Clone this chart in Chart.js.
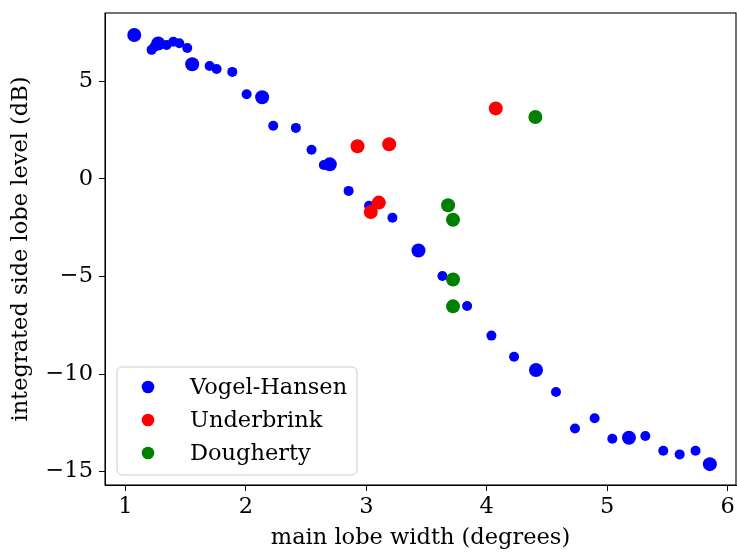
<!DOCTYPE html>
<html>
<head>
<meta charset="utf-8">
<script src="https://cdn.jsdelivr.net/npm/chart.js@4/dist/chart.umd.min.js"></script>
<style>
  html, body { margin: 0; padding: 0; background: #ffffff; }
  #wrap { width: 737px; height: 552px; }
</style>
</head>
<body>
<div id="wrap"><canvas id="c" width="737" height="552"></canvas></div>
<script>
// ---- data ----
const seriesNames = ['Vogel-Hansen', 'Underbrink', 'Dougherty'];

const vhX = [1.073, 1.217, 1.24, 1.272, 1.342, 1.397, 1.447, 1.513, 1.554, 1.699, 1.757, 1.887,
             2.006, 2.135, 2.227, 2.415, 2.545, 2.647, 2.697, 2.853, 3.023, 3.217, 3.433, 3.632,
             3.837, 4.039, 4.227, 4.409, 4.575, 4.733, 4.896, 5.043, 5.181, 5.317, 5.466, 5.602,
             5.734, 5.853];
const vhY = [7.38, 6.62, 6.78, 6.95, 6.87, 7.04, 6.96, 6.72, 5.88, 5.79, 5.64, 5.49,
             4.34, 4.19, 2.73, 2.62, 1.50, 0.72, 0.75, -0.61, -1.37, -1.99, -3.67, -4.97,
             -6.51, -8.03, -9.11, -9.79, -10.92, -12.79, -12.27, -13.32, -13.27, -13.18, -13.93, -14.12,
             -13.93, -14.62];
// 1 = drawn as a larger marker in the reference
const vhBig = [1, 0, 0, 1, 0, 0, 0, 0, 1, 0, 0, 0,
               0, 1, 0, 0, 0, 0, 1, 0, 0, 0, 1, 0,
               0, 0, 0, 1, 0, 0, 0, 0, 1, 0, 0, 0,
               0, 1];

const ubX = [2.927, 3.19, 3.104, 3.037, 4.075];
const ubY = [1.68, 1.78, -1.21, -1.69, 3.62];

const dgX = [3.679, 3.72, 3.72, 3.72, 4.404];
const dgY = [-1.35, -2.09, -5.15, -6.53, 3.18];

const xTicks = [1, 2, 3, 4, 5, 6];
const yTicks = [-15, -10, -5, 0, 5];

const xTitle = 'main lobe width (degrees)';
const yTitle = 'integrated side lobe level (dB)';

// ---- styling ----
const FONT = 'DejaVu Serif';
const FS = 22.5;
const colors = ['#0000ff', '#ff0000', '#008000'];
const R_SMALL = 5, R_BIG = 7;

const pts = (xs, ys) => xs.map((x, i) => ({ x: x, y: ys[i] }));

const framePlugin = {
  id: 'frame',
  afterDatasetsDraw(chart) {
    const { ctx, chartArea: a } = chart;
    ctx.save();
    ctx.strokeStyle = '#000';
    ctx.lineWidth = 1.1;
    ctx.strokeRect(a.left, a.top, a.right - a.left, a.bottom - a.top);
    ctx.restore();
  }
};

const legendPlugin = {
  id: 'boxLegend',
  afterDraw(chart) {
    const { ctx, chartArea: a } = chart;
    const x0 = a.left + 12, y0 = a.bottom - 118, w = 240, h = 108, r = 5;
    ctx.save();
    ctx.beginPath();
    ctx.moveTo(x0 + r, y0);
    ctx.lineTo(x0 + w - r, y0);
    ctx.arcTo(x0 + w, y0, x0 + w, y0 + r, r);
    ctx.lineTo(x0 + w, y0 + h - r);
    ctx.arcTo(x0 + w, y0 + h, x0 + w - r, y0 + h, r);
    ctx.lineTo(x0 + r, y0 + h);
    ctx.arcTo(x0, y0 + h, x0, y0 + h - r, r);
    ctx.lineTo(x0, y0 + r);
    ctx.arcTo(x0, y0, x0 + r, y0, r);
    ctx.closePath();
    ctx.fillStyle = 'rgba(255,255,255,0.8)';
    ctx.fill();
    ctx.strokeStyle = '#cccccc';
    ctx.lineWidth = 1;
    ctx.stroke();
    ctx.font = FS + 'px "' + FONT + '"';
    ctx.textBaseline = 'middle';
    ctx.textAlign = 'left';
    seriesNames.forEach((name, i) => {
      const cy = y0 + 20 + i * 33;
      ctx.beginPath();
      ctx.arc(x0 + 31, cy, 6.3, 0, Math.PI * 2);
      ctx.fillStyle = colors[i];
      ctx.fill();
      ctx.fillStyle = '#000';
      ctx.fillText(name, x0 + 73, cy + 1);
    });
    ctx.restore();
  }
};

new Chart(document.getElementById('c'), {
  type: 'scatter',
  data: {
    datasets: [
      { label: seriesNames[0], data: pts(vhX, vhY), backgroundColor: colors[0], borderWidth: 0,
        pointRadius: vhBig.map(b => b ? R_BIG : R_SMALL), order: 3 },
      { label: seriesNames[1], data: pts(ubX, ubY), backgroundColor: colors[1], borderWidth: 0,
        pointRadius: R_BIG, order: 2 },
      { label: seriesNames[2], data: pts(dgX, dgY), backgroundColor: colors[2], borderWidth: 0,
        pointRadius: R_BIG, order: 1 }
    ]
  },
  options: {
    responsive: false,
    animation: false,
    events: [],
    layout: { autoPadding: false, padding: { left: 0, top: 13, right: 1, bottom: 0 } },
    plugins: { legend: { display: false }, tooltip: { enabled: false } },
    scales: {
      x: {
        type: 'linear', min: 0.83, max: 6.07,
        afterBuildTicks: s => { s.ticks = xTicks.map(v => ({ value: v })); },
        afterFit: s => { s.height = 67; s.paddingLeft = 0; s.paddingRight = 0; },
        grid: { display: true, drawOnChartArea: false, drawTicks: true, tickLength: 6, color: '#000', lineWidth: 1 },
        border: { display: true, color: '#000', width: 1 },
        ticks: { color: '#000', padding: 3, font: { family: FONT, size: FS }, maxRotation: 0,
                 callback: v => String(v) },
        title: { display: true, text: xTitle, color: '#000', font: { family: FONT, size: FS },
                 padding: { top: 0, bottom: 0 } }
      },
      y: {
        type: 'linear', min: -15.69, max: 8.51,
        afterBuildTicks: s => { s.ticks = yTicks.map(v => ({ value: v })); },
        afterFit: s => { s.width = 105; s.paddingTop = 0; s.paddingBottom = 0; },
        grid: { display: true, drawOnChartArea: false, drawTicks: true, tickLength: 6, color: '#000', lineWidth: 1 },
        border: { display: true, color: '#000', width: 1 },
        ticks: { color: '#000', padding: 6, font: { family: FONT, size: FS },
                 callback: v => (v < 0 ? '\u2212' + Math.abs(v) : String(v)) },
        title: { display: true, text: yTitle, color: '#000', font: { family: FONT, size: FS },
                 padding: { top: 8, bottom: 0 } }
      }
    }
  },
  plugins: [framePlugin, legendPlugin]
});
</script>
</body>
</html>
